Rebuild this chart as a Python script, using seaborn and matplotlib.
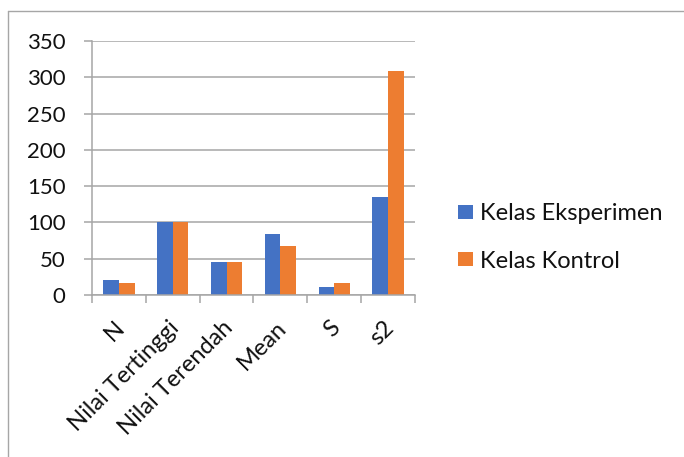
import matplotlib
matplotlib.use("Agg")
import matplotlib.pyplot as plt
import matplotlib.transforms as mtransforms
import seaborn as sns
import pandas as pd
from matplotlib.lines import Line2D
from matplotlib.ticker import FixedLocator

categories = ["N", "Nilai Tertinggi", "Nilai Terendah", "Mean", "S", "s2"]
series_names = ["Kelas Eksperimen", "Kelas Kontrol"]
eksperimen = [21, 100, 46, 84, 11, 135]
kontrol = [17, 100, 46, 67, 17, 308]
y_ticks = [0, 50, 100, 150, 200, 250, 300, 350]
colors = ["#4472C4", "#ED7D31"]

df = pd.DataFrame({
    "cat": categories * 2,
    "series": [series_names[0]] * len(categories) + [series_names[1]] * len(categories),
    "value": eksperimen + kontrol,
})

sns.set_theme(style="white")
plt.rcParams["font.family"] = ["Lato", "DejaVu Sans"]

txt_c = "#111111"
fig = plt.figure(figsize=(6.84, 4.57), dpi=100)
ax = fig.add_axes([92/684, 1-295/457, (415-92)/684, (295-41)/457])

sns.barplot(data=df, x="cat", y="value", hue="series", order=categories,
            hue_order=series_names, palette=colors, width=0.58, saturation=1,
            ax=ax, legend=True, linewidth=0)

grid_c = "#a6a6a6"
ax.set_ylim(0, 350)
ax.set_xlim(-0.5, len(categories) - 0.5)
ax.set_yticks(y_ticks)
ax.set_yticklabels([str(v) for v in y_ticks], fontsize=16, color=txt_c)
ax.yaxis.grid(True, color=grid_c, linewidth=1.1)
ax.set_axisbelow(True)
ax.tick_params(axis="y", length=6, width=1.1, color=grid_c, pad=13, left=True)
ax.set_xlabel("")
ax.set_ylabel("")

ax.set_xticks(range(len(categories)))
ax.set_xticklabels(categories, fontsize=17, color=txt_c, rotation=45,
                   ha="right", rotation_mode="anchor")
ax.tick_params(axis="x", which="major", length=0, pad=16)
offset = mtransforms.ScaledTranslation(-5/100, 0, fig.dpi_scale_trans)
for lbl in ax.get_xticklabels():
    lbl.set_transform(lbl.get_transform() + offset)
ax.xaxis.set_minor_locator(FixedLocator([i - 0.5 for i in range(len(categories) + 1)]))
ax.tick_params(axis="x", which="minor", length=6, width=1.1, color=grid_c, bottom=True)

for s in ["top", "right"]:
    ax.spines[s].set_visible(False)
for s in ["left", "bottom"]:
    ax.spines[s].set_color(grid_c)
    ax.spines[s].set_linewidth(1.1)

handles, labels = ax.get_legend_handles_labels()
ax.get_legend().remove()
leg = fig.legend(handles, labels, loc="center left", bbox_to_anchor=(458/684, 1-237.5/457),
                 frameon=False, fontsize=17, handlelength=0.62, handleheight=0.55,
                 handletextpad=0.3, labelspacing=1.12, borderpad=0, borderaxespad=0)
for t in leg.get_texts():
    t.set_color(txt_c)

# outer chart border (top and left visible)
fig.add_artist(Line2D([8/684, 1], [1-11/457, 1-11/457], color="#a6a6a6", lw=1.0, transform=fig.transFigure))
fig.add_artist(Line2D([8/684, 8/684], [0, 1-11/457], color="#a6a6a6", lw=1.0, transform=fig.transFigure))

fig.savefig("out.png", dpi=100)
